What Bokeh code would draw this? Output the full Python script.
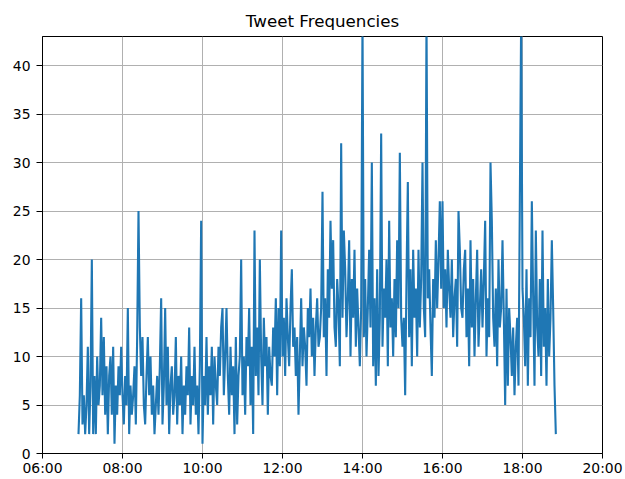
import pandas as pd
from bokeh.plotting import figure
from bokeh.models import Range1d, FixedTicker, DatetimeTickFormatter
from bokeh.embed import file_html
from bokeh.resources import INLINE

title_text = "Tweet Frequencies"
day = "2018-01-01"
start_time = "06:54"
interval = "2min"
tick_hours = [6, 8, 10, 12, 14, 16, 18, 20]
y_ticks = [0, 5, 10, 15, 20, 25, 30, 35, 40]
y_max = 43

counts = [
    2, 6, 16,
    3, 6, 2, 5, 11, 2, 7, 20, 2, 8, 2, 10, 5, 7, 14,
    6, 12, 4, 9, 2, 8, 10, 4, 11, 1, 7, 4, 9, 6, 11,
    6, 3, 8, 5, 15, 2, 7, 4, 6, 9, 3, 12, 25, 13, 8,
    12, 5, 3, 8, 12, 6, 10, 4, 7, 2, 5, 8, 4, 9, 16,
    3, 7, 15, 5, 11, 2, 7, 9, 4, 6, 12, 3, 8, 5, 10,
    2, 7, 4, 9, 6, 13, 3, 8, 5, 11, 4, 7, 2, 9, 24,
    1, 8, 5, 12, 4, 9, 6, 11, 3, 10, 7, 5, 11, 8, 13,
    15, 6, 10, 15, 8, 4, 11, 6, 9, 2, 12, 3, 8, 10, 20,
    6, 10, 4, 12, 9, 15, 5, 11, 2, 23, 8, 13, 6, 20, 10,
    5, 14, 9, 12, 4, 11, 8, 7, 13, 10, 16, 6, 15, 9, 23,
    10, 14, 8, 16, 12, 9, 15, 19, 11, 13, 8, 12, 4, 10, 16,
    9, 13, 11, 7, 15, 12, 17, 10, 14, 8, 13, 16, 11, 12, 15,
    27, 12, 16, 8, 19, 14, 24, 17, 22, 13, 11, 18, 15, 9, 32,
    14, 23, 19, 12, 16, 22, 10, 18, 14, 21, 11, 17, 13, 9, 15,
    45, 12, 18, 10, 15, 21, 13, 30, 9, 16, 7, 19, 8, 14, 33,
    11, 17, 14, 20, 9, 24, 13, 16, 10, 18, 12, 22, 15, 31, 14,
    11, 14, 6, 18, 28, 12, 19, 9, 21, 14, 17, 10, 21, 13, 18,
    30, 15, 12, 45, 16, 19, 13, 8, 18, 14, 22, 15, 20, 26, 17,
    26, 15, 19, 13, 21, 17, 14, 20, 12, 16, 18, 11, 25, 21, 15,
    14, 19, 21, 12, 17, 9, 22, 13, 18, 10, 16, 21, 11, 15, 19,
    13, 18, 24, 10, 16, 12, 30, 24, 14, 11, 17, 9, 20, 13, 15,
    22, 14, 5, 17, 7, 15, 12, 8, 13, 6, 11, 14, 7, 26, 45,
    17, 14, 9, 19, 7, 16, 12, 26, 16, 7, 23, 13, 10, 18, 8,
    23, 11, 15, 7, 18, 10, 14, 22, 15, 7, 2,
]

times = pd.date_range(f"{day} {start_time}", periods=len(counts), freq=interval)
tick_times = [pd.Timestamp(f"{day} {h:02d}:00") for h in tick_hours]
tick_ms = [t.value / 1e6 for t in tick_times]

p = figure(
    width=625, height=479,
    x_axis_type="datetime",
    x_range=Range1d(tick_times[0], tick_times[-1]),
    y_range=Range1d(0, y_max),
    title=title_text,
    output_backend="svg",
    toolbar_location=None,
    min_border_left=42, min_border_right=23,
    min_border_top=36, min_border_bottom=26,
)

p.line(times, counts, line_color="#1f77b4", line_width=2.1)

p.title.align = "center"
p.title.text_font = "DejaVu Sans"
p.title.text_font_size = "16.7px"
p.title.text_font_style = "normal"
p.title.text_color = "black"
p.title.standoff = 12

p.xaxis.ticker = FixedTicker(ticks=tick_ms)
p.xaxis.formatter = DatetimeTickFormatter(hours="%H:%M", hourmin="%H:%M", minutes="%H:%M", days="%H:%M")
p.yaxis.ticker = FixedTicker(ticks=y_ticks)

for ax in p.axis:
    ax.axis_line_color = "black"
    ax.major_tick_line_color = "black"
    ax.major_tick_in = 0
    ax.minor_tick_out = 0
    ax.minor_tick_in = 0
    ax.major_label_text_font = "DejaVu Sans"
    ax.major_label_text_font_size = "13.9px"
    ax.major_label_text_color = "black"
p.xaxis.major_tick_out = 5
p.xaxis.major_label_standoff = 1
p.yaxis.major_tick_out = 6
p.yaxis.major_label_standoff = 6

p.grid.grid_line_color = "#b0b0b0"
p.grid.grid_line_width = 1
p.outline_line_color = "black"
p.outline_line_width = 1
p.outline_line_alpha = 1
p.background_fill_color = "white"
p.border_fill_color = "white"

open("out.html", "w").write(file_html(p, INLINE))
